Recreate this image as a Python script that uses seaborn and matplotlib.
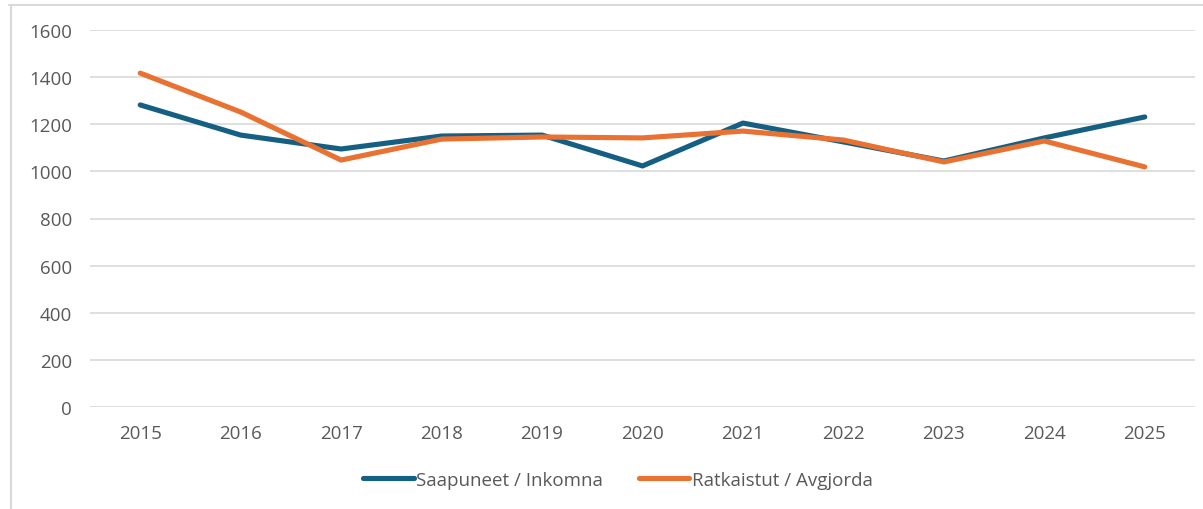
import matplotlib.pyplot as plt
import pandas as pd
import seaborn as sns
from matplotlib.lines import Line2D

W, H = 1203, 510

years = list(range(2015, 2026))
saapuneet = [1282, 1154, 1095, 1150, 1154, 1023, 1205, 1125, 1044, 1142, 1231]
ratkaistut = [1417, 1252, 1048, 1137, 1146, 1142, 1171, 1133, 1040, 1129, 1019]
series_names = ["Saapuneet / Inkomna", "Ratkaistut / Avgjorda"]
y_ticks = [0, 200, 400, 600, 800, 1000, 1200, 1400, 1600]

df = pd.DataFrame(
    {
        "year": years * 2,
        "value": saapuneet + ratkaistut,
        "series": [series_names[0]] * len(years) + [series_names[1]] * len(years),
    }
)

sns.set_theme(style="white")
plt.rcParams["font.family"] = ["Open Sans", "DejaVu Sans"]

fig = plt.figure(figsize=(W / 100, H / 100), dpi=100)
ax = fig.add_axes([90 / W, (H - 408) / H, (1195 - 90) / W, (408 - 31) / H])

sns.lineplot(
    data=df,
    x="year",
    y="value",
    hue="series",
    palette=["#156082", "#E97132"],
    linewidth=3.7,
    ax=ax,
    legend=False,
)

ax.set_xlim(2014.5, 2025.5)
ax.set_ylim(0, 1600)
ax.set_xticks(years)
ax.set_yticks(y_ticks)
ax.grid(axis="y", color="#d9d9d9", linewidth=1.2)
ax.set_axisbelow(True)
for s in ax.spines.values():
    s.set_visible(False)
ax.tick_params(axis="both", length=0, labelsize=13.5, labelcolor="#595959")
ax.tick_params(axis="y", pad=13)
ax.tick_params(axis="x", pad=12)
ax.set_xlabel("")
ax.set_ylabel("")

handles = [
    Line2D([], [], color="#156082", linewidth=3.7, solid_capstyle="round"),
    Line2D([], [], color="#E97132", linewidth=3.7, solid_capstyle="round"),
]
fig.legend(
    handles,
    series_names,
    loc="center",
    bbox_to_anchor=(618 / W, 1 - 481 / H),
    ncol=2,
    frameon=False,
    fontsize=13.5,
    labelcolor="#595959",
    handlelength=2.7,
    handletextpad=0.15,
    columnspacing=1.9,
)

# chart area border (cropped)
fig.add_artist(Line2D([9 / W, 1], [1 - 6 / H, 1 - 6 / H], color="#d9d9d9", linewidth=1.5))
fig.add_artist(Line2D([11 / W, 11 / W], [0, 1 - 6 / H], color="#d9d9d9", linewidth=1.5))

fig.savefig("out.png", dpi=100)
